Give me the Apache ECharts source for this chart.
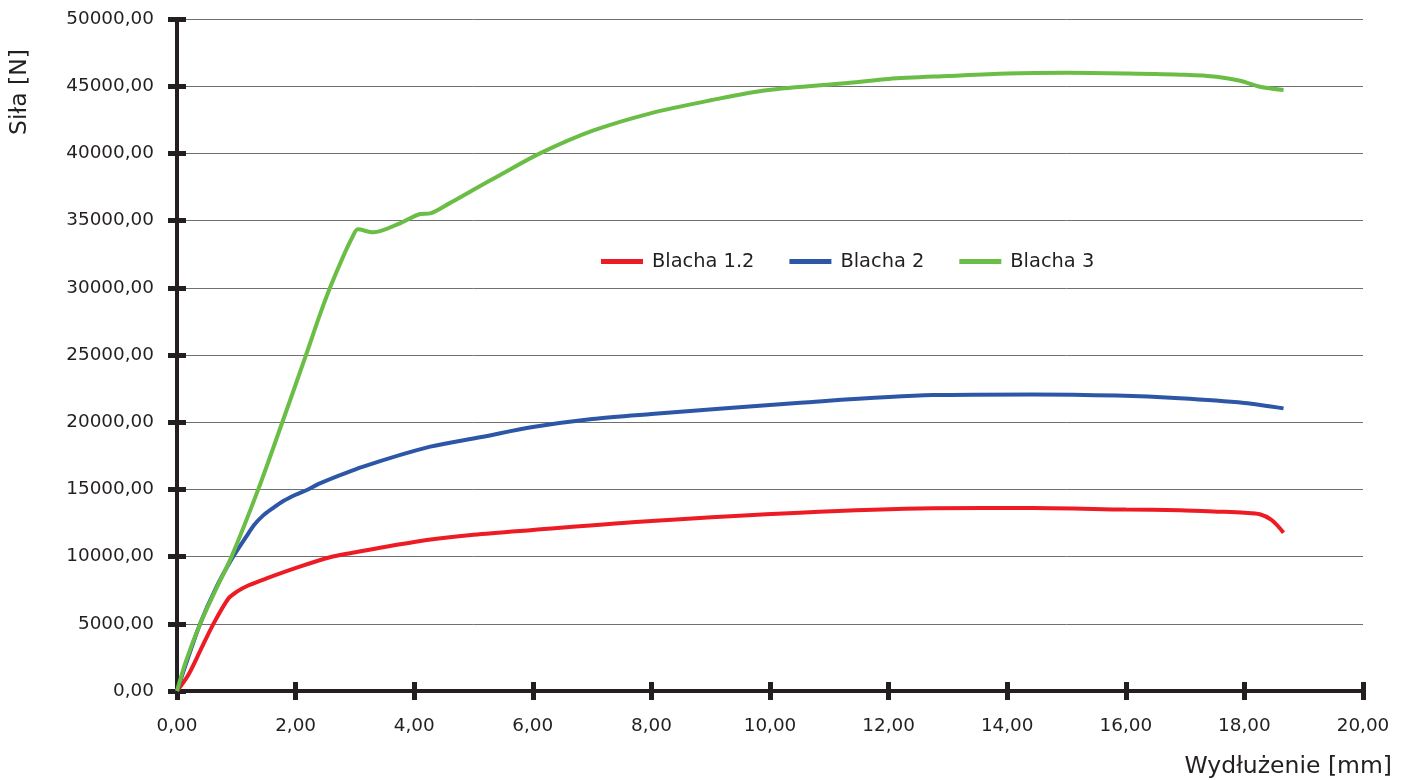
<!DOCTYPE html>
<html>
<head>
<meta charset="utf-8">
<script src="https://cdn.jsdelivr.net/npm/echarts@6/dist/echarts.min.js"></script>
<style>html,body{margin:0;padding:0;background:#fff}#c{width:1409px;height:780px}</style>
</head>
<body>
<div id="c"></div>
<script>
// Blacha 1.2 (red)
const redX = [0, 0.19, 0.4, 0.61, 0.87, 1.01, 1.2, 1.51, 2.07, 2.58, 2.92, 4.0, 5.0, 6.0, 8.0, 10.5, 12.75, 14.44, 16.0, 16.91, 17.6, 18.0, 18.26, 18.46, 18.66];
const redY = [0, 1190, 3070, 4960, 6900, 7390, 7850, 8380, 9250, 9950, 10250, 11090, 11620, 11980, 12650, 13270, 13590, 13620, 13500, 13450, 13340, 13260, 13150, 12720, 11780];
// Blacha 2 (blue)
const blueX = [0, 0.15, 0.39, 0.65, 0.92, 1.17, 1.3, 1.45, 1.6, 1.8, 2.0, 2.19, 2.41, 3.14, 4.27, 5.11, 6.0, 7.0, 8.0, 10.51, 12.75, 14.44, 15.85, 16.91, 18.0, 18.66];
const blueY = [0, 2000, 5000, 7600, 9800, 11500, 12350, 13050, 13550, 14150, 14600, 14960, 15450, 16690, 18180, 18880, 19640, 20240, 20610, 21450, 22020, 22070, 21980, 21780, 21430, 21030];
// Blacha 3 (green)
const greenX = [0, 0.15, 0.39, 0.65, 0.92, 1.37, 1.77, 2.16, 2.41, 2.58, 2.8, 2.95, 3.05, 3.31, 3.76, 4.1, 4.27, 4.6, 5.0, 5.45, 6.12, 7.0, 8.0, 9.0, 9.94, 11.35, 12.0, 13.0, 14.0, 15.0, 16.0, 17.0, 17.53, 17.93, 18.26, 18.66];
const greenY = [0, 2200, 5000, 7500, 10000, 15000, 19920, 24800, 28000, 30000, 32300, 33700, 34350, 34130, 34800, 35490, 35540, 36300, 37300, 38400, 40000, 41670, 43000, 43950, 44700, 45250, 45540, 45760, 45950, 46000, 45950, 45850, 45700, 45400, 44960, 44720];

const seriesNames = ['Blacha 1.2', 'Blacha 2', 'Blacha 3'];
const seriesColors = ['#ed1c24', '#2e56a6', '#6abd45'];
const xTitle = 'Wydłużenie [mm]';
const yTitle = 'Siła [N]';

const zip = (xs, ys) => xs.map((x, i) => [x, ys[i]]);
const fmt = v => v.toFixed(2).replace('.', ',');
const FONT = 'DejaVu Sans';
const TXT = '#231f20';

const chart = echarts.init(document.getElementById('c'), null, {renderer: 'canvas'});
const data = [zip(redX, redY), zip(blueX, blueY), zip(greenX, greenY)];

chart.setOption({
  animation: false,
  backgroundColor: '#fff',
  textStyle: {fontFamily: FONT, color: TXT},
  grid: {left: 177, top: 19, right: 46, bottom: 89, containLabel: false, outerBoundsMode: 'none'},
  legend: {
    left: 596, top: 247,
    itemWidth: 42, itemHeight: 5, itemGap: 35,
    textStyle: {fontFamily: FONT, fontSize: 19.4, color: TXT, padding: [0, 0, 0, 4]},
    data: seriesNames.map((n, i) => ({name: n, icon: 'rect', itemStyle: {color: seriesColors[i]}}))
  },
  xAxis: [{
    type: 'value', min: 0, max: 20, interval: 2,
    axisLine: {show: true, onZero: false, lineStyle: {color: TXT, width: 4}},
    axisTick: {show: true, length: 9, lineStyle: {color: TXT, width: 5}},
    axisLabel: {formatter: fmt, fontSize: 18.4, color: TXT, fontFamily: FONT, margin: 26},
    splitLine: {show: false}
  }, {
    type: 'value', min: 0, max: 20, interval: 2, position: 'bottom',
    axisLine: {show: false},
    axisTick: {show: true, inside: true, length: 9, lineStyle: {color: TXT, width: 5}},
    axisLabel: {show: false}, splitLine: {show: false}
  }],
  yAxis: [{
    type: 'value', min: 0, max: 50000, interval: 5000,
    axisLine: {show: true, onZero: false, lineStyle: {color: TXT, width: 4}},
    axisTick: {show: true, length: 9, lineStyle: {color: TXT, width: 5}},
    axisLabel: {formatter: fmt, fontSize: 18.4, color: TXT, fontFamily: FONT, margin: 23},
    splitLine: {show: true, lineStyle: {color: '#6f6f6f', width: 1}}
  }, {
    type: 'value', min: 0, max: 50000, interval: 5000, position: 'left',
    axisLine: {show: false},
    axisTick: {show: true, inside: true, length: 9, lineStyle: {color: TXT, width: 5}},
    axisLabel: {show: false}, splitLine: {show: false}
  }],
  graphic: [
    {type: 'text', x: 20, y: 92, rotation: Math.PI / 2,
     style: {text: yTitle, fontSize: 23.5, fontFamily: FONT, fill: TXT, align: 'center', verticalAlign: 'middle'}},
    {type: 'text', x: 1392, y: 767,
     style: {text: xTitle, fontSize: 23.5, fontFamily: FONT, fill: TXT, align: 'right', verticalAlign: 'middle'}}
  ],
  series: seriesNames.map((n, i) => ({
    name: n, type: 'line', data: data[i],
    xAxisIndex: 0, yAxisIndex: 0,
    showSymbol: false, symbol: 'none', smooth: 0.3,
    color: seriesColors[i],
    lineStyle: {color: seriesColors[i], width: 4},
    z: 3
  }))
});
</script>
</body>
</html>
